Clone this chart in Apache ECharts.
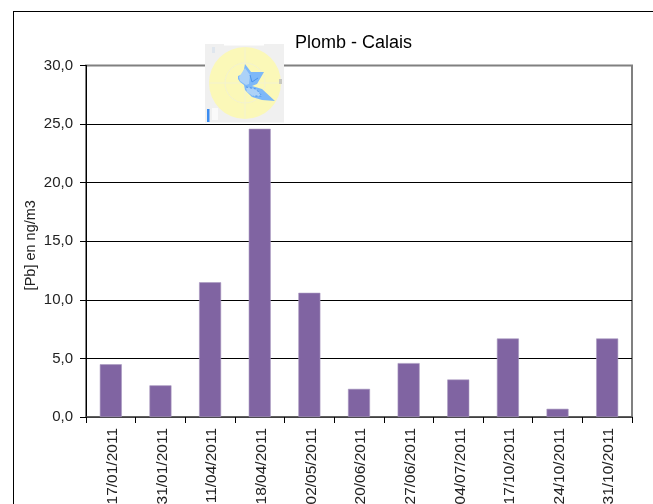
<!DOCTYPE html>
<html>
<head>
<meta charset="utf-8">
<style>html,body{margin:0;padding:0;background:#fff;overflow:hidden}#c{width:653px;height:504px}</style>
<script src="https://cdn.jsdelivr.net/npm/echarts@6/dist/echarts.min.js"></script>
</head>
<body>
<div id="c"></div>
<script>
const categories = ['17/01/2011','31/01/2011','11/04/2011','18/04/2011','02/05/2011','20/06/2011','27/06/2011','04/07/2011','17/10/2011','24/10/2011','31/10/2011'];
const values = [4.5, 2.7, 11.5, 24.6, 10.6, 2.4, 4.6, 3.2, 6.7, 0.7, 6.7];
const titleText = 'Plomb - Calais';
const yName = '[Pb] en ng/m3';

const FONT = '"Liberation Sans", Arial, sans-serif';
const chart = echarts.init(document.getElementById('c'), null, {renderer:'canvas'});
chart.setOption({
  animation:false,
  backgroundColor:'#fff',
  title:{text:titleText,left:290,top:29,textStyle:{fontFamily:FONT,fontSize:18,fontWeight:'normal',color:'#000'}},
  grid:{left:86,top:65.5,width:546,height:351.5,outerBoundsMode:'none',show:true,borderColor:'#808080',borderWidth:2,backgroundColor:'transparent',containLabel:false},
  xAxis:{type:'category',data:categories,boundaryGap:true,
    axisLine:{show:true,lineStyle:{color:'#555',width:1.5}},
    axisTick:{show:true,alignWithLabel:false,length:6,lineStyle:{color:'#000',width:1}},
    axisLabel:{rotate:90,interval:0,margin:11,fontFamily:FONT,fontSize:15.5,color:'#222',hideOverlap:false,verticalAlign:'top',lineHeight:4},
    splitLine:{show:false}},
  yAxis:{type:'value',min:0,max:30,interval:5,
    name:yName,nameLocation:'middle',nameGap:48,nameRotate:90,nameMoveOverlap:false,
    nameTextStyle:{fontFamily:FONT,fontSize:14.5,color:'#222',padding:[0,0,0,-8]},
    axisLine:{show:true,lineStyle:{color:'#000',width:1}},
    axisTick:{show:true,length:6,lineStyle:{color:'#000',width:1}},
    axisLabel:{margin:13,fontFamily:FONT,fontSize:15,color:'#222',formatter:v=>v.toFixed(1).replace('.',',')},
    splitLine:{show:true,lineStyle:{color:['#000','#000','#000','#000','#000','#000','#808080'],width:1}}},
  series:[{type:'bar',data:values,barWidth:22,itemStyle:{color:'#8064a2',borderColor:'#a898c0',borderWidth:0.6}}],
  graphic:[
    {type:'line',z:10,shape:{x1:13.5,y1:11.5,x2:13.5,y2:504},style:{stroke:'#000',lineWidth:1}},
    {type:'line',z:10,shape:{x1:13,y1:11.5,x2:653,y2:11.5},style:{stroke:'#000',lineWidth:1}},
    {type:'rect',z:20,shape:{x:205,y:44,width:79,height:78.5},style:{fill:'#f0f0f0'}},
    {type:'circle',z:21,shape:{cx:245,cy:83,r:36},style:{fill:'#fbf8b8'}},
    {type:'circle',z:22,shape:{cx:245,cy:83,r:20},style:{fill:'none',stroke:'#f3f2d0',lineWidth:1}},
    {type:'line',z:22,shape:{x1:209,y1:83,x2:281,y2:83},style:{stroke:'#f3f2d0',lineWidth:1}},
    {type:'line',z:22,shape:{x1:245,y1:47,x2:245,y2:119},style:{stroke:'#f3f2d0',lineWidth:1}},
    {type:'polygon',z:23,shape:{points:[[245,64],[251,72],[264,72],[257,84],[252,86],[262,89],[275,101],[262,100],[252,97],[245,90],[244,85],[240,82],[238,79],[238,76],[243,74]]},style:{fill:'#7db8f8'}},
    {type:'polygon',z:24,shape:{points:[[239,77],[245,68],[250,75],[249,84],[246,85],[240,81]]},style:{fill:'#acd2f8'}},
    {type:'polygon',z:24,shape:{points:[[246,87],[256,89],[262,96],[253,96],[247,92]]},style:{fill:'#acd2f8'}},
    {type:'polyline',z:25,shape:{points:[[250,75],[252,82],[258,78]]},style:{stroke:'#4a94ec',fill:'none',lineWidth:1}},
    {type:'polyline',z:25,shape:{points:[[246,87],[256,89],[262,96],[253,96]]},style:{stroke:'#4a94ec',fill:'none',lineWidth:1,lineDash:[2,2]}},
    {type:'rect',z:25,shape:{x:207,y:109,width:2.5,height:13},style:{fill:'#3b8cf0'}},
    {type:'rect',z:25,shape:{x:224,y:44,width:40,height:1.5},style:{fill:'#fff'}},
    {type:'rect',z:25,shape:{x:212,y:47,width:3,height:6},style:{fill:'#dfe6ee'}},
    {type:'rect',z:25,shape:{x:212,y:108,width:6,height:12},style:{fill:'#fafafa'}},
    {type:'rect',z:25,shape:{x:279,y:79,width:3,height:5},style:{fill:'#c8c8c0'}}
  ]
});
</script>
</body>
</html>
